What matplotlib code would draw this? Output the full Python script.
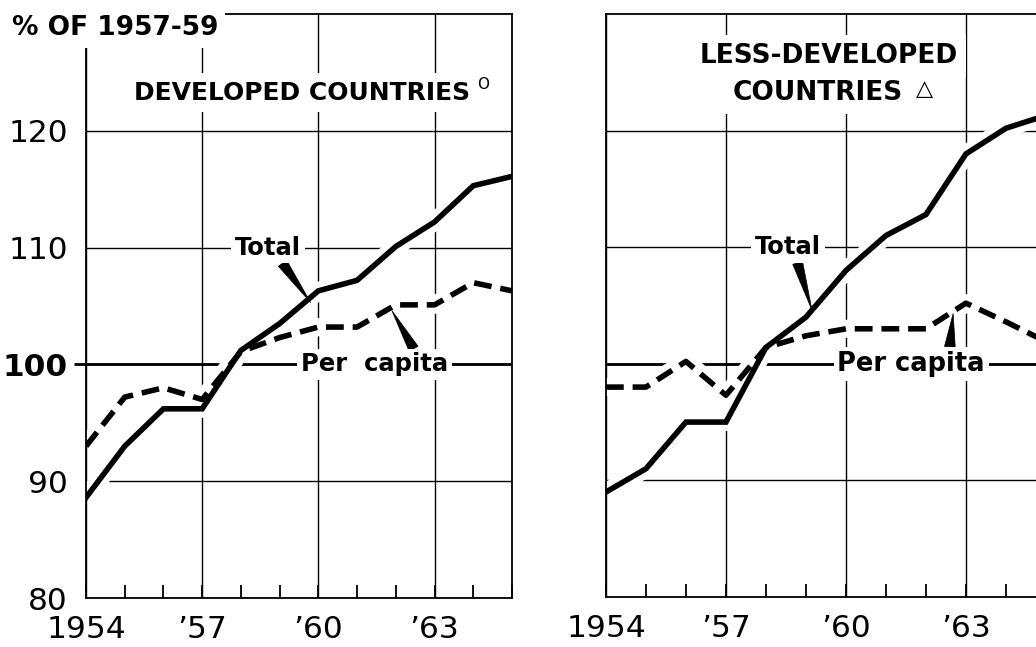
import numpy as np
import matplotlib.pyplot as plt
from matplotlib.ticker import FixedLocator, MultipleLocator

plt.rcParams['font.family'] = ['DejaVu Sans']

# data (% of 1957-59)
years = np.arange(1954, 1966)
dev_total = [88.6, 93, 96.2, 96.2, 101.2, 103.5, 106.3, 107.2, 110.1, 112.2, 115.3, 116.1]
dev_capita = [93, 97.2, 98, 97, 101.1, 102.3, 103.2, 103.2, 105.1, 105.1, 107, 106.3]
less_total = [89, 91, 95, 95, 101.4, 104, 108, 111, 112.8, 118, 120.2, 121.3]
less_capita = [98, 98, 100.2, 97.3, 101.4, 102.4, 103, 103, 103, 105.2, 103.6, 101.9]

year_ticks = [1954, 1957, 1960, 1963]
year_labels = ['1954', '\u201957', '\u201960', '\u201963']
pct_ticks = [80, 90, 100, 110, 120]

fig = plt.figure(figsize=(10.36, 6.47), dpi=100)
ax1 = fig.add_axes([0.0830, 0.0757, 0.4112, 0.9026])
ax2 = fig.add_axes([0.5849, 0.0773, 0.4247, 0.9011])

lw = 4
for ax, total, capita in [(ax1, dev_total, dev_capita), (ax2, less_total, less_capita)]:
    ax.set_xlim(1954, 1965)
    ax.set_ylim(80, 130)
    ax.xaxis.set_major_locator(FixedLocator(year_ticks))
    ax.xaxis.set_minor_locator(MultipleLocator(1))
    ax.set_xticklabels(year_labels, fontsize=22.5)
    ax.set_yticks(pct_ticks)
    ax.tick_params(axis='x', which='both', direction='in', length=9.5, width=1.3, pad=12)
    ax.tick_params(axis='y', direction='out', length=0, pad=13, labelsize=22.5)
    ax.grid(True, which='major', color='black', lw=1.0)
    for s in ax.spines.values():
        s.set_linewidth(1.3)
    ax.axhline(100, color='black', lw=2, zorder=1)
    # white halo under the lines so the grid breaks around them
    ax.plot(years, capita, color='white', lw=13, solid_capstyle='butt', zorder=2)
    ax.plot(years, total, color='white', lw=13, solid_capstyle='butt', zorder=2)
    ax.plot(years, capita, color='black', lw=lw, ls=(0, (3.2, 1.6)),
            dash_capstyle='butt', zorder=3)
    ax.plot(years, total, color='black', lw=lw, solid_joinstyle='miter', zorder=3)

ax2.set_yticklabels([])
ax1.get_yticklabels()[2].set_fontweight('bold')
t100 = ax1.yaxis.get_major_ticks()[2]
t100.tick1line.set_markersize(9)
t100.tick1line.set_markeredgewidth(2)

box = dict(boxstyle='square,pad=0.15', fc='white', ec='none')
arrow = dict(arrowstyle='wedge,tail_width=0.42', fc='black', ec='black', lw=0.5,
             shrinkA=0, shrinkB=0)

# line labels with pointers
ax1.annotate('Total', xy=(1959.8, 105.3), xytext=(1958.7, 110), fontsize=17.5,
             fontweight='bold', ha='center', va='center', bbox=box, zorder=5,
             arrowprops=dict(arrow, relpos=(0.68, 0)))
ax1.annotate('Per  capita', xy=(1961.9, 104.6), xytext=(1961.45, 100), fontsize=17.5,
             fontweight='bold', ha='center', va='center', bbox=box, zorder=5,
             arrowprops=dict(arrow, relpos=(0.78, 1)))
ax2.annotate('Total', xy=(1959.15, 104.6), xytext=(1958.55, 110), fontsize=17.5,
             fontweight='bold', ha='center', va='center', bbox=box, zorder=5,
             arrowprops=dict(arrow, relpos=(0.63, 0)))
ax2.annotate('Per capita', xy=(1962.68, 104.3), xytext=(1961.63, 100), fontsize=18.5,
             fontweight='bold', ha='center', va='center', bbox=box, zorder=5,
             arrowprops=dict(arrow, relpos=(0.76, 1)))

# panel titles
tbox = dict(boxstyle='square,pad=0.3', fc='white', ec='none')
ax1.text(0.507, 0.853, 'DEVELOPED COUNTRIES', transform=ax1.transAxes, fontsize=18,
         fontweight='bold', ha='center', va='baseline', bbox=tbox, zorder=5)
ax1.text(0.932, 0.880, 'O', transform=ax1.transAxes, fontsize=11,
         ha='center', va='center', zorder=6)
ax2.text(0.507, 0.916, 'LESS-DEVELOPED', transform=ax2.transAxes, fontsize=19,
         fontweight='bold', ha='center', va='baseline', bbox=tbox, zorder=5)
ax2.text(0.481, 0.852, 'COUNTRIES', transform=ax2.transAxes, fontsize=19,
         fontweight='bold', ha='center', va='baseline', bbox=tbox, zorder=5)
ax2.text(0.725, 0.872, '\u25b3', transform=ax2.transAxes, fontsize=16,
         ha='center', va='center', zorder=6)

fig.text(0.0116, 0.946, '% OF 1957-59', fontsize=19, fontweight='bold',
         ha='left', va='baseline',
         bbox=dict(boxstyle='square,pad=0.25', fc='white', ec='none'))

fig.savefig('out.png', dpi=100)
